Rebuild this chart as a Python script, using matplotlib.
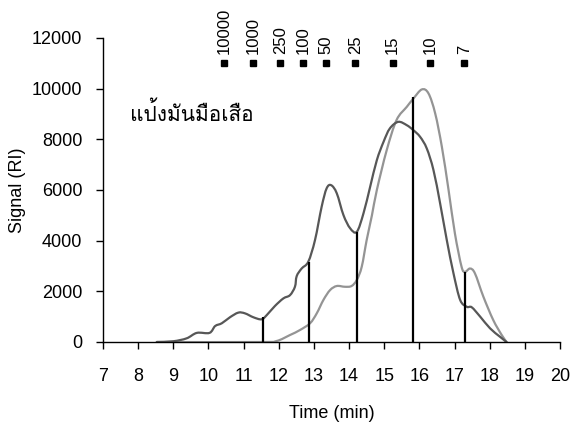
import numpy as np
import matplotlib
matplotlib.use("Agg")
import matplotlib.pyplot as plt
from matplotlib.path import Path
from matplotlib.patches import PathPatch

plt.rcParams['font.family'] = ['Liberation Sans', 'DejaVu Sans']

# เส้นเข้ม (ตัวอย่าง) : เวลา (min), สัญญาณ (RI)
t_dark = [8.53, 9.0, 9.38, 9.67, 10.03, 10.19, 10.38, 10.61, 10.85, 11.04, 11.28,
          11.51, 11.66, 11.89, 12.13, 12.32, 12.46, 12.51, 12.65, 12.84, 13.03,
          13.22, 13.36, 13.49, 13.65, 13.84, 14.03, 14.22, 14.41, 14.60, 14.79,
          14.98, 15.16, 15.40, 15.64, 15.83, 16.02, 16.21, 16.40, 16.59, 16.78,
          16.97, 17.16, 17.35, 17.49, 17.73, 18.01, 18.29, 18.48]
s_dark = [0, 30, 145, 360, 360, 630, 740, 975, 1160, 1130, 975,
          895, 1065, 1420, 1720, 1850, 2180, 2600, 2900, 3170, 4020,
          5340, 6060, 6190, 5870, 5010, 4490, 4350, 5080, 6130, 7180,
          7900, 8430, 8690, 8560, 8360, 8100, 7640, 6790, 5470, 4020,
          2710, 1660, 1390, 1370, 1000, 540, 210, 0]

# เส้นอ่อน (มาตรฐาน)
t_light = [8.53, 11.5, 11.94, 12.32, 12.60, 12.89, 13.08, 13.27, 13.46, 13.65,
           13.88, 14.07, 14.22, 14.36, 14.50, 14.65, 14.79, 15.07, 15.35, 15.64,
           15.83, 16.07, 16.26, 16.45, 16.64, 16.83, 17.01, 17.20, 17.30, 17.44,
           17.58, 17.82, 18.10, 18.34, 18.48]
s_light = [0, 0, 40, 276, 470, 740, 1130, 1660, 2050, 2210,
           2180, 2210, 2450, 2970, 4020, 5000, 6000, 7570, 8760, 9280,
           9610, 9970, 9810, 9020, 7700, 6000, 4290, 2970, 2770, 2900,
           2710, 1790, 870, 280, 0]

# เส้นแบ่งแนวตั้ง
cut_t = [11.55, 12.86, 14.22, 15.83, 17.31]
cut_s = [1000, 3170, 4350, 9680, 2770]

# มาตรฐานน้ำหนักโมเลกุล
std_t = [10.44, 11.28, 12.04, 12.70, 13.34, 14.18, 15.24, 16.30, 17.28]
std_lab = ['10000', '1000', '250', '100', '50', '25', '15', '10', '7']
std_y = 11000


def smooth_path(x, y):
    # เส้นโค้งแบบ Excel (smoothed line) : Bezier ผ่านทุกจุด
    p = np.column_stack([x, y]).astype(float)
    verts = [p[0]]
    codes = [Path.MOVETO]
    n = len(p)
    for i in range(n - 1):
        p0 = p[max(i - 1, 0)]
        p1 = p[i]
        p2 = p[i + 1]
        p3 = p[min(i + 2, n - 1)]
        c1 = p1 + (p2 - p0) / 6.0
        c2 = p2 - (p3 - p1) / 6.0
        verts += [c1, c2, p2]
        codes += [Path.CURVE4] * 3
    return Path(verts, codes)


fig = plt.figure(figsize=(5.72, 4.28), dpi=100)
ax = fig.add_axes([103 / 572, 1 - 342 / 428, 457 / 572, 304 / 428])

ax.add_patch(PathPatch(smooth_path(t_light, s_light), fill=False,
                       edgecolor='#949494', lw=1.6, capstyle='round'))
ax.add_patch(PathPatch(smooth_path(t_dark, s_dark), fill=False,
                       edgecolor='#575757', lw=1.6, capstyle='round'))
ax.vlines(cut_t, 0, cut_s, color='black', lw=1.6)

ax.plot(std_t, [std_y] * len(std_t), 's', color='black', ms=4.5, clip_on=False)
for t, lab in zip(std_t, std_lab):
    ax.annotate(lab, (t, std_y), xytext=(0, 7), textcoords='offset points',
                rotation=90, ha='center', va='bottom', fontsize=12,
                annotation_clip=False)

ax.text(7.77, 9035, 'แป้งมันมือเสือ', family=['Loma', 'DejaVu Sans'],
        fontsize=15, ha='left', va='center')

ax.set_xlim(7, 20)
ax.set_ylim(0, 12000)
ax.set_xticks(np.arange(7, 21, 1))
ax.set_yticks(np.arange(0, 12001, 2000))
ax.spines['top'].set_visible(False)
ax.spines['right'].set_visible(False)
for sp in ('left', 'bottom'):
    ax.spines[sp].set_linewidth(1.0)
    ax.spines[sp].set_color('black')
ax.tick_params(direction='out', length=5, width=1, labelsize=13)
ax.tick_params(axis='x', pad=14)
ax.tick_params(axis='y', pad=10)
ax.set_xlabel('Time (min)', fontsize=13, labelpad=14)
ax.set_ylabel('Signal (RI)', fontsize=13, labelpad=4)

fig.savefig('out.png')
